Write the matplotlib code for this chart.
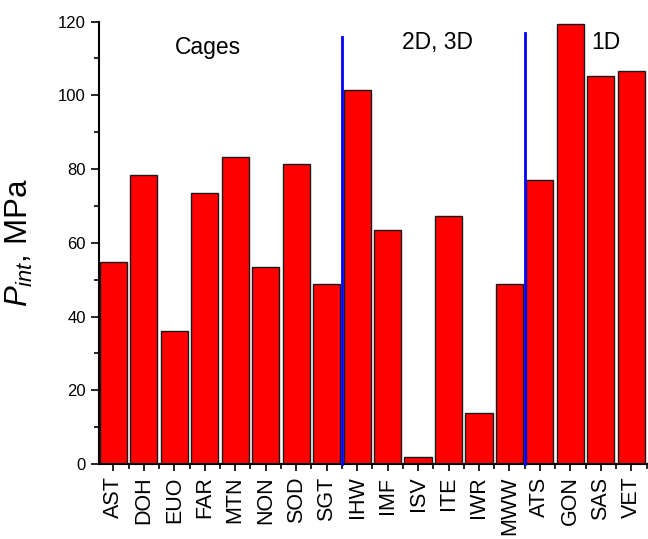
import matplotlib
matplotlib.use('Agg')
import matplotlib.pyplot as plt
from matplotlib.ticker import MultipleLocator, FixedLocator

plt.rcParams['font.family'] = ['Liberation Sans', 'DejaVu Sans']
plt.rcParams['mathtext.fontset'] = 'custom'
plt.rcParams['mathtext.rm'] = 'Liberation Sans'
plt.rcParams['mathtext.it'] = 'Liberation Sans:italic'

# zeolite framework codes and internal pressure (MPa)
codigos = ['AST', 'DOH', 'EUO', 'FAR', 'MTN', 'NON', 'SOD', 'SGT', 'IHW', 'IMF',
           'ISV', 'ITE', 'IWR', 'MWW', 'ATS', 'GON', 'SAS', 'VET']
pressao = [54.8, 78.4, 36.2, 73.6, 83.2, 53.5, 81.4, 48.8, 101.4, 63.6,
           1.8, 67.3, 13.9, 48.8, 77.0, 119.3, 105.2, 106.6]

# group separators (between categories) and group names
divisoes = [7.5, 13.5]
topoDivisoes = [115.8, 116.9]
grupos = ['Cages', '2D, 3D', '1D']
posGrupos = [3.1, 10.65, 16.15]
altGrupos = [113.0, 114.3, 114.3]

fig = plt.figure(figsize=(6.48, 5.39), dpi=100)
ax = fig.add_axes([0.1528, 0.139, 0.845, 0.821])

x = list(range(len(codigos)))
ax.bar(x, pressao, width=0.89, color='#ff0000', edgecolor='#1a1a1a', linewidth=1.0, zorder=2)

for d, t in zip(divisoes, topoDivisoes):
    ax.plot([d, d], [0, t], color='#0000ff', linewidth=2.0, zorder=3, clip_on=False)

for g, px, py in zip(grupos, posGrupos, altGrupos):
    ax.text(px, py, g, fontsize=16.5, ha='center', va='center')

ax.set_xlim(-0.47, 17.5)
ax.set_ylim(0, 120)

ax.set_xticks(x)
ax.set_xticklabels(codigos, rotation=90, fontsize=15.5)
ax.xaxis.set_minor_locator(FixedLocator([i + 0.5 for i in range(-1, len(codigos))]))
ax.yaxis.set_major_locator(MultipleLocator(20))
ax.yaxis.set_minor_locator(MultipleLocator(10))
ax.tick_params(axis='y', which='major', labelsize=12, length=6, width=1.2, direction='out')
ax.tick_params(axis='y', which='minor', length=3.5, width=1.2, direction='out')
ax.tick_params(axis='x', which='major', length=5, width=1.2, direction='out', pad=4)
ax.tick_params(axis='x', which='minor', length=3.5, width=1.2, direction='out')

ax.spines['top'].set_visible(False)
ax.spines['right'].set_visible(False)
ax.spines['left'].set_linewidth(1.5)
ax.spines['bottom'].set_linewidth(1.5)

ax.set_ylabel(r'$P_{int}$, MPa', fontsize=22.5)
ax.yaxis.set_label_coords(-0.116, 0.5)

fig.savefig('out.png', dpi=100)
